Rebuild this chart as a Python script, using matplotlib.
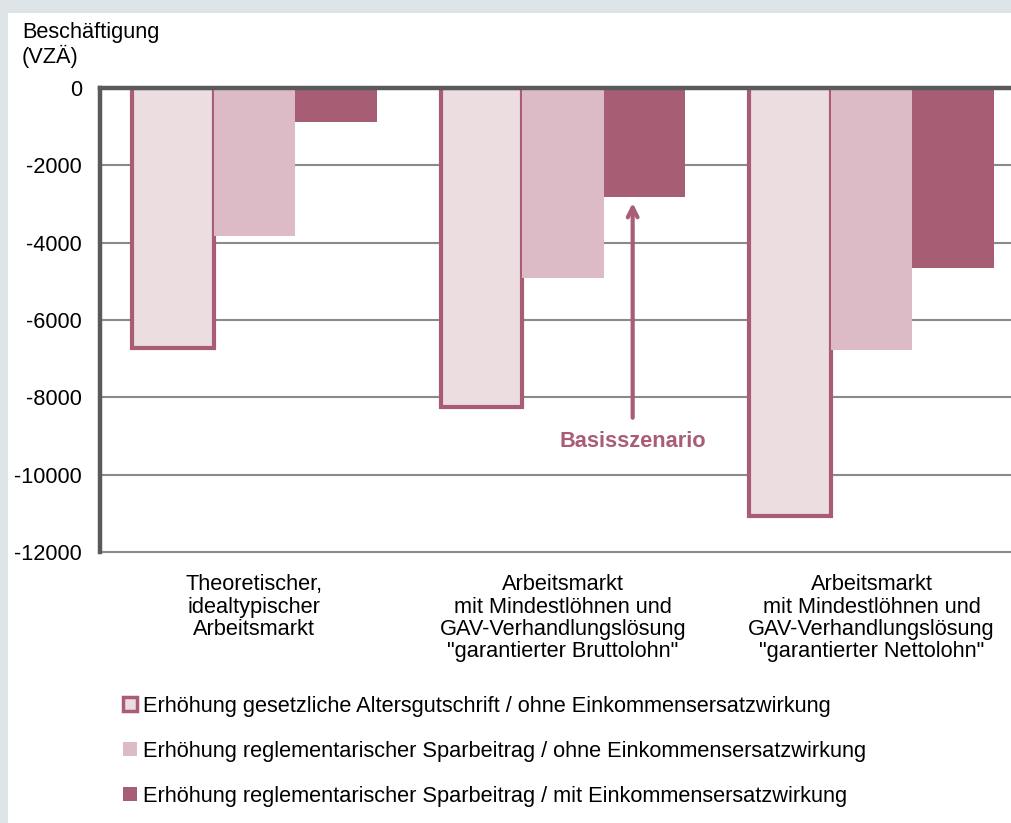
import matplotlib
matplotlib.use("Agg")
import matplotlib.pyplot as plt
from matplotlib.patches import Patch, Rectangle
import numpy as np

plt.rcParams['font.family'] = ['Liberation Sans', 'DejaVu Sans']

categories = ["Theoretischer,\nidealtypischer\nArbeitsmarkt",
              "Arbeitsmarkt\nmit Mindestlöhnen und\nGAV-Verhandlungslösung\n\"garantierter Bruttolohn\"",
              "Arbeitsmarkt\nmit Mindestlöhnen und\nGAV-Verhandlungslösung\n\"garantierter Nettolohn\""]
series_names = ["Erhöhung gesetzliche Altersgutschrift / ohne Einkommensersatzwirkung",
                "Erhöhung reglementarischer Sparbeitrag / ohne Einkommensersatzwirkung",
                "Erhöhung reglementarischer Sparbeitrag / mit Einkommensersatzwirkung"]
altersgutschrift_ohne = [-6720, -8250, -11080]
sparbeitrag_ohne = [-3830, -4920, -6780]
sparbeitrag_mit = [-870, -2810, -4660]
yticks = [0, -2000, -4000, -6000, -8000, -10000, -12000]

FS = 15.7
W, H = 1011, 823
fig = plt.figure(figsize=(W / 100, H / 100), dpi=100)
fig.patch.set_facecolor('#dee5e8')
fig.patches.append(Rectangle((8 / W, 0), 1, 1 - 13 / H, transform=fig.transFigure,
                             facecolor='white', edgecolor='none', zorder=-10))

left, right = 100 / W, 1.0
top, bottom = 1 - 88 / H, 1 - 552 / H
ax = fig.add_axes([left, bottom, right - left, top - bottom])
ax.set_zorder(2)
ax.set_facecolor('none')

x = np.arange(len(categories))
bw = 82 / 310
ax.bar(x - bw, altersgutschrift_ohne, bw, color='#ecdde1', edgecolor='#a85d75',
       linewidth=3, zorder=3)
ax.bar(x, sparbeitrag_ohne, bw, color='#ddbbc6', edgecolor='none', zorder=3)
ax.bar(x + bw, sparbeitrag_mit, bw, color='#a75d73', edgecolor='none', zorder=3)

ax.set_xlim(-0.5, 2.5 - 15 / 310)
ax.set_ylim(-12000, 0)
ax.set_yticks(yticks)
ax.set_yticklabels([str(v) for v in yticks], fontsize=FS)
ax.yaxis.grid(True, color='#8a8a8a', linewidth=1.5, zorder=1)
for gl in ax.get_ygridlines():
    gl.set_clip_on(False)
ax.set_axisbelow(True)
ax.tick_params(axis='y', length=0, pad=13)
ax.set_xticks(x)
ax.set_xticklabels(categories, fontsize=FS, linespacing=1.08, va='top')
ax.tick_params(axis='x', length=0, pad=16)
for s in ['right', 'bottom']:
    ax.spines[s].set_visible(False)
for s in ['top', 'left']:
    ax.spines[s].set_color('#5a5a5a')
    ax.spines[s].set_linewidth(3.2)
    ax.spines[s].set_zorder(5)

# annotation
ax_x = 1 + bw - 12 / 310
ax.annotate("", xy=(ax_x, -2900), xytext=(ax_x, -8600),
            arrowprops=dict(arrowstyle='->,head_length=0.7,head_width=0.35',
                            color='#a85d75', lw=3), zorder=6)
ax.text(ax_x, -9150, "Basisszenario", ha='center', va='center', fontsize=FS,
        fontweight='bold', color='#a85d75')

fig.text(22 / W, 1 - 45 / H, "Beschäftigung\n(VZÄ)", fontsize=FS, ha='left', va='center',
         linespacing=1.15)

handles = [Patch(facecolor='#ecdde1', edgecolor='#a85d75', linewidth=2.5),
           Patch(facecolor='#ddbbc6', edgecolor='none'),
           Patch(facecolor='#a75d73', edgecolor='none')]
fig.legend(handles, series_names, loc='upper left', bbox_to_anchor=(123 / W, 1 - 696 / H),
           frameon=False, fontsize=FS, handlelength=0.62, handleheight=0.62,
           handletextpad=0.3, labelspacing=1.1, borderaxespad=0, borderpad=0)

fig.savefig("out.png", dpi=100)
